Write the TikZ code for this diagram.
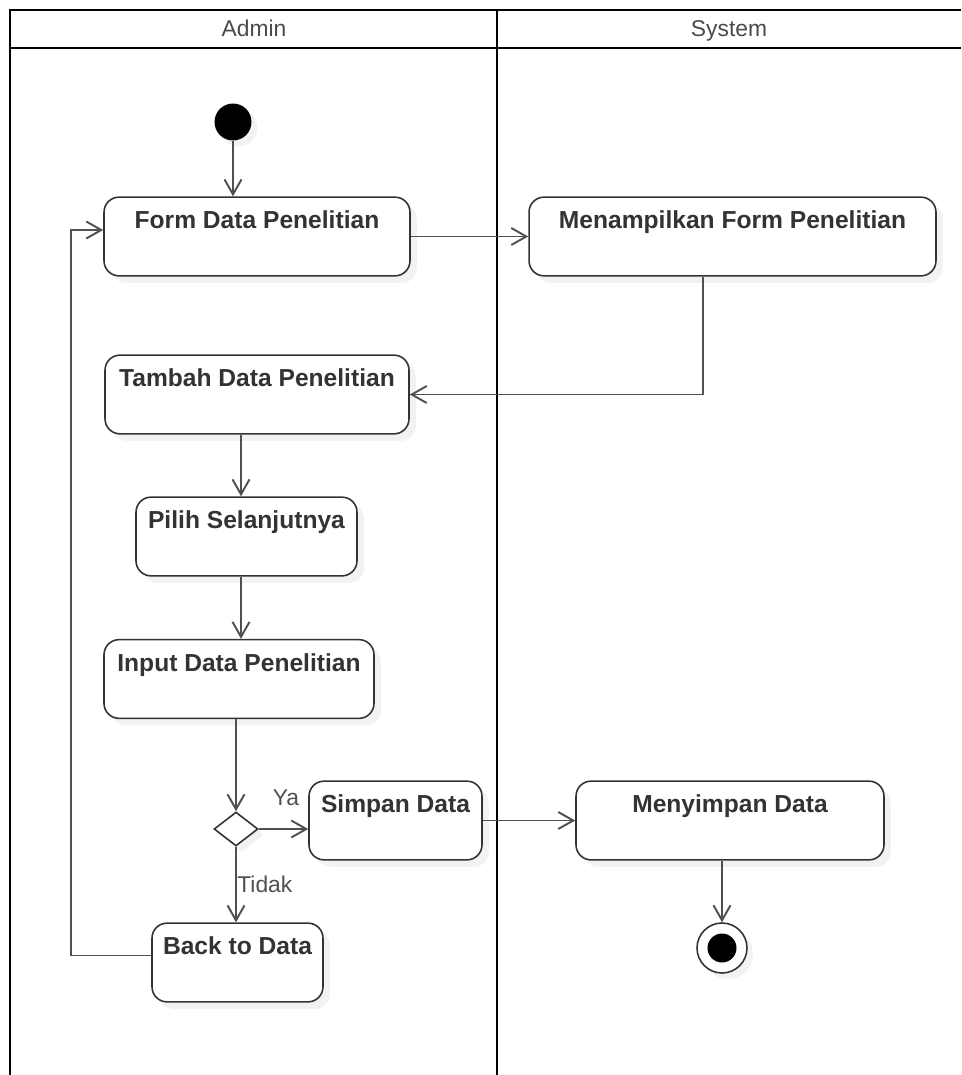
\documentclass[tikz,border=0pt]{standalone}
\usepackage{fontspec}
\setmainfont{Liberation Sans}
\usepackage{tikz}
\usetikzlibrary{arrows.meta,shapes.geometric,shadows,calc}
\definecolor{colorln}{HTML}{505050}
\definecolor{colortx}{HTML}{333333}
\definecolor{colorhd}{HTML}{4A4A4A}
\tikzset{
  lane/.style={black, line width=1.7pt},
  act/.style={draw=colortx, line width=0.9pt, fill=white, rounded corners=0.3cm,
    font=\bfseries\fontsize{14}{16}\selectfont, text=colortx,
    inner xsep=2pt, inner ysep=0pt, text height=18pt, text depth=26.8pt,
    drop shadow={shadow xshift=0.14cm, shadow yshift=-0.14cm, opacity=0.1}},
  edge/.style={colorln, line width=1.1pt, -{Straight Barb[length=0.3cm,width=0.34cm]}},
  startnode/.style={circle, fill=black, minimum size=0.74cm, inner sep=0pt,
    drop shadow={shadow xshift=0.12cm, shadow yshift=-0.12cm, opacity=0.1}},
  endnode/.style={circle, draw=colortx, line width=0.9pt, fill=white, minimum size=1cm, inner sep=0pt,
    path picture={\fill[black] (path picture bounding box.center) circle (0.29cm);},
    drop shadow={shadow xshift=0.12cm, shadow yshift=-0.12cm, opacity=0.1}},
  decide/.style={diamond, draw=colortx, line width=0.9pt, fill=white, inner sep=0pt,
    minimum width=0.88cm, minimum height=0.68cm,
    drop shadow={shadow xshift=0.12cm, shadow yshift=-0.12cm, opacity=0.1}},
  lanehd/.style={text=colorhd, font=\fontsize{13}{15}\selectfont, anchor=base},
  lbl/.style={text=colorln, font=\fontsize{13}{15}\selectfont, inner sep=0pt}
}

\begin{document}
\begin{tikzpicture}[x=0.02cm, y=-0.02cm]
\useasboundingbox (0,0) rectangle (961,1075);
\draw[lane] (961,10) -| (10,1075);
\draw[lane] (10,48) -- (961,48);
\draw[lane] (497,10) -- (497,1075);
\node[lanehd] (hadmin) at (254,36) {Admin};
\node[lanehd] (hsys) at (729,36) {System};

\node[startnode] (start) at (233,122) {};
\node[act, minimum width=6.12cm] (form) at (257,236.5) {Form Data Penelitian};
\node[act, minimum width=8.14cm] (tampil) at (732.5,236.5) {Menampilkan Form Penelitian};
\node[act, minimum width=6.08cm] (tambah) at (257,394.5) {Tambah Data Penelitian};
\node[act, minimum width=4.42cm] (pilih) at (246.5,536.5) {Pilih Selanjutnya};
\node[act, minimum width=5.4cm] (input) at (239,679) {Input Data Penelitian};
\node[decide] (dec) at (236,829) {};
\node[act, minimum width=3.46cm] (simpan) at (395.5,820.5) {Simpan Data};
\node[act, minimum width=6.16cm] (nyimpan) at (730,820.5) {Menyimpan Data};
\node[act, minimum width=3.42cm] (back) at (237.5,962.5) {Back to Data};
\node[endnode] (fin) at (722,948) {};
\node[lbl] (ya) at (286,798) {Ya};
\node[lbl, anchor=west] (tidak) at (237,884) {Tidak};

\draw[edge] (start) -- (start |- form.north);
\draw[edge] (form.east) -- (tampil.west);
\draw[edge] (tampil.south -| 703,0) |- (tambah.east);
\draw[edge] (tambah.south -| 241,0) -- (pilih.north -| 241,0);
\draw[edge] (pilih.south -| 241,0) -- (input.north -| 241,0);
\draw[edge] (input.south -| dec.north) -- (dec.north);
\draw[edge] (dec.east) -- (dec.east -| simpan.west);
\draw[edge] (dec.south) -- (dec.south |- back.north);
\draw[edge] (simpan.east) -- (nyimpan.west);
\draw[edge] (nyimpan.south -| fin.north) -- (fin.north);
\draw[edge] ([yshift=0.14cm]back.west) -- ++(-80,0) |- ([yshift=0.13cm]form.west);
\end{tikzpicture}
\end{document}
